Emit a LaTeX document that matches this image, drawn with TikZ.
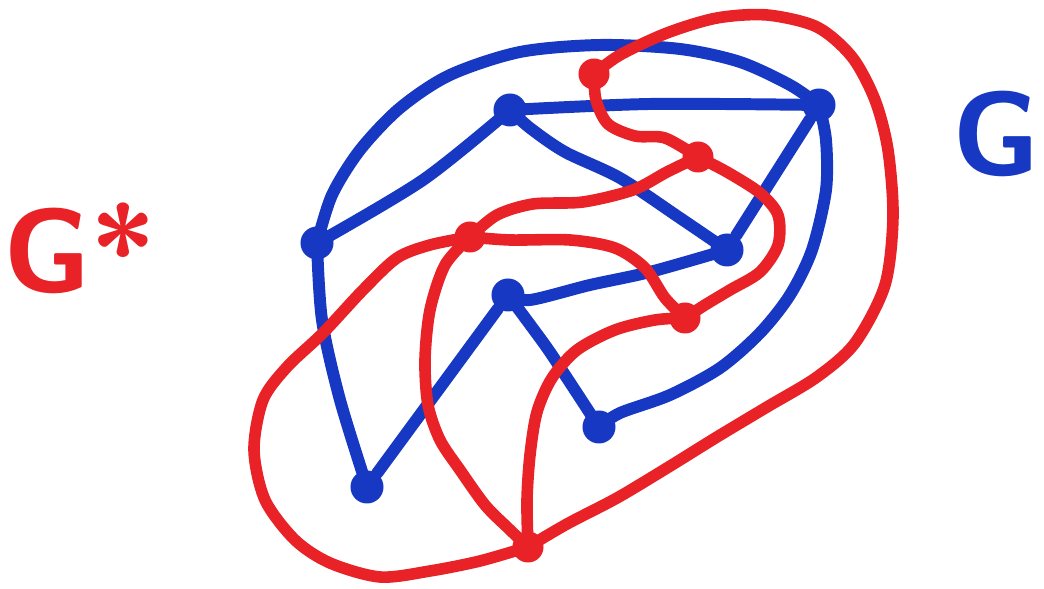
\documentclass[tikz,border=0pt]{standalone}
\usepackage{tikz}
\usetikzlibrary{positioning}
\definecolor{penblue}{HTML}{1638C2}
\definecolor{penred}{HTML}{E82226}

\begin{document}
\begin{tikzpicture}[x=0.01cm, y=-0.01cm,
    gedge/.style={penblue, line width=3.4pt, line cap=round, line join=round},
    dedge/.style={penred, line width=3.3pt, line cap=round, line join=round},
    gvert/.style={circle, fill=penblue, inner sep=0pt, minimum size=0.33cm},
    dvert/.style={circle, fill=penred, inner sep=0pt, minimum size=0.31cm},
    glabel/.style={font=\sffamily\bfseries\fontsize{34}{38}\selectfont}]
\useasboundingbox (0,0) rectangle (1044,589);

% Graph G (blue)
\node[gvert] (b1) at (510,110) {};
\node[gvert] (b2) at (819,105) {};
\node[gvert] (b3) at (317,243) {};
\node[gvert] (b4) at (727,250) {};
\node[gvert] (b5) at (508,295) {};
\node[gvert] (b6) at (599,427) {};
\node[gvert] (b7) at (367,487) {};

\draw[gedge] plot[smooth] coordinates {(b3) (332,195) (360,150) (400,108) (450,75) (520,52) (600,45) (680,49) (740,62) (790,85) (b2)};
\draw[gedge] plot[smooth] coordinates {(b1) (650,104) (b2)};
\draw[gedge] plot[smooth] coordinates {(b3) (423,180) (b1)};
\draw[gedge] plot[smooth] coordinates {(b1) (530,128) (565,152) (620,178) (680,218) (b4)};
\draw[gedge] (b2) -- (b4);
\draw[gedge] plot[smooth] coordinates {(b2) (826,140) (826,190) (812,250) (790,295) (760,333) (720,368) (670,395) (620,413) (b6)};
\draw[gedge] plot[smooth] coordinates {(b5) (530,300) (590,285) (650,272) (b4)};
\draw[gedge] (b5) -- (b7);
\draw[gedge] plot[smooth] coordinates {(b5) (545,345) (565,375) (b6)};
\draw[gedge] plot[smooth] coordinates {(b3) (322,320) (340,400) (b7)};

% Dual G* (red)
\node[dvert] (r1) at (594,74) {};
\node[dvert] (r2) at (698,157) {};
\node[dvert] (r3) at (470,237) {};
\node[dvert] (r4) at (685,318) {};
\node[dvert] (r5) at (528,547) {};

\draw[dedge] plot[smooth] coordinates {(r1) (620,55) (667,33) (717,18) (767,15) (817,27) (852,57) (875,100) (888,150) (893,217) (885,285) (855,343) (817,377) (767,407) (717,437) (667,468) (617,498) (567,524) (r5)};
\draw[dedge] plot[smooth] coordinates {(r1) (596,100) (608,124) (635,136) (665,138) (r2)};
\draw[dedge] plot[smooth] coordinates {(r2) (727,172) (760,193) (778,215) (778,245) (760,272) (730,290) (705,305) (r4)};
\draw[dedge] plot[smooth] coordinates {(r2) (667,172) (633,190) (583,202) (533,204) (497,215) (r3)};
\draw[dedge] plot[smooth] coordinates {(r3) (510,240) (570,240) (615,248) (645,268) (665,298) (r4)};
\draw[dedge] plot[smooth] coordinates {(r4) (655,320) (615,330) (577,350) (552,378) (537,412) (530,455) (527,500) (r5)};
\draw[dedge] plot[smooth] coordinates {(r3) (445,265) (430,310) (425,360) (428,405) (440,440) (460,470) (485,505) (508,528) (r5)};
\draw[dedge] plot[smooth] coordinates {(r3) (430,245) (397,258) (363,290) (323,333) (287,367) (263,400) (254,450) (265,500) (295,540) (330,563) (380,577) (430,571) (480,561) (r5)};

% Labels
\node[glabel, penred] (gstar) at (80,248) {G*};
\node[glabel, penblue] (gname) at (996,134) {G};

\end{tikzpicture}
\end{document}
